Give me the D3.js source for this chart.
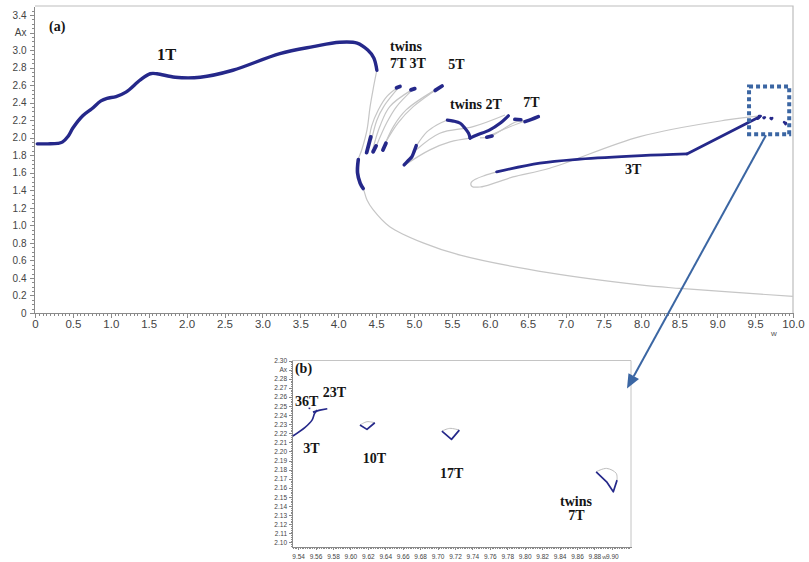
<!DOCTYPE html>
<html>
<head>
<meta charset="utf-8">
<script src="https://cdn.jsdelivr.net/npm/d3@7"></script>
<style>
  html, body { margin: 0; padding: 0; background: #fff; }
  svg { display: block; }
  .axis text { font-family: "Liberation Sans", Arial, sans-serif; fill: #444; }
  .axis path, .axis line { stroke: #8a8a8a; shape-rendering: crispEdges; }
  .lbl { font-family: "Liberation Serif", "Times New Roman", serif; font-weight: bold; fill: #151515; }
</style>
</head>
<body>
<svg id="chart" width="809" height="562"></svg>
<script>
// ---------- panel (a): response amplitude Ax against frequency w ----------
// stable 1T branch (blue)
const branch1T = [[0.03,1.93],[0.17,1.93],[0.30,1.935],[0.36,1.95],[0.44,2.02],[0.50,2.11],
  [0.63,2.25],[0.75,2.33],[0.87,2.42],[0.95,2.45],[1.07,2.47],[1.20,2.52],[1.39,2.66],
  [1.52,2.73],[1.61,2.73],[1.85,2.69],[2.18,2.69],[2.61,2.77],[3.23,2.96],[3.67,3.04],
  [4.02,3.09],[4.25,3.08],[4.39,3.00],[4.47,2.91],[4.51,2.77]];
const branch1TLow = [[4.265,1.75],[4.255,1.60],[4.29,1.48],[4.33,1.42]];
// unstable 1T backbone (gray)
const backbone = [[4.51,2.77],[4.46,2.55],[4.42,2.35],[4.38,2.09],[4.31,1.86],[4.265,1.75],
  [4.255,1.60],[4.29,1.48],[4.33,1.42],[4.38,1.29],[4.46,1.18],[4.68,0.985],[5.12,0.80],
  [5.61,0.66],[6.79,0.457],[7.98,0.32],[8.51,0.28],[10.0,0.19]];
// twins 7T / 3T / 5T fan (gray unstable arcs, blue stable pieces)
const fanGray = [
  [[4.40,1.92],[4.44,2.13],[4.53,2.32],[4.64,2.47],[4.77,2.565]],
  [[4.44,1.975],[4.51,2.20],[4.60,2.355],[4.79,2.565]],
  [[4.46,1.88],[4.55,2.13],[4.68,2.355],[4.97,2.546]],
  [[4.50,1.90],[4.64,2.17],[4.77,2.355],[4.99,2.554]],
  [[4.60,1.89],[4.73,2.13],[4.90,2.32],[5.28,2.546]],
  [[4.62,1.94],[4.79,2.17],[4.99,2.355],[5.34,2.577]]
];
const fanBlue = [
  [[4.43,2.01],[4.375,1.83]],
  [[4.50,1.906],[4.46,1.84]],
  [[4.63,1.937],[4.59,1.86]],
  [[4.77,2.57],[4.815,2.585]],
  [[4.96,2.546],[5.01,2.56]],
  [[5.28,2.54],[5.37,2.59]]
];
// twins 2T region
const twinsLowBlue = [[5.03,1.91],[5.0,1.84],[4.97,1.78],[4.925,1.74],[4.87,1.69]];
const grayTwins2T = [
  [[5.03,1.906],[5.17,2.066],[5.30,2.146],[5.44,2.203]],
  [[4.88,1.689],[5.21,1.861],[5.475,1.952],[5.74,1.995]],
  [[5.03,1.861],[5.34,2.051],[5.78,2.127],[6.20,2.26]],
  [[5.87,1.998],[6.00,2.013],[6.355,2.184],[6.51,2.195]],
  [[5.95,2.005],[6.25,2.12],[6.53,2.211]]
];
const blue2TLeft = [[5.44,2.20],[5.52,2.19],[5.61,2.165],[5.67,2.11],[5.72,2.05],[5.74,1.995]];
const blue2TRight = [[5.74,1.995],[5.83,2.03],[6.00,2.09],[6.135,2.165],[6.245,2.25]];
const blueDashes = [
  [[5.96,2.005],[6.03,2.02]],
  [[6.33,2.21],[6.41,2.205]],
  [[6.464,2.184],[6.55,2.21],[6.64,2.241]]
];
// 3T loop
const loop3TGray = [[6.095,1.61],[5.937,1.570],[5.818,1.530],[5.752,1.484],[5.765,1.444],
  [5.871,1.438],[6.069,1.484],[6.306,1.553],[6.79,1.652],[7.98,2.013],[9.13,2.203],[9.57,2.25]];
const blue3T = [[6.09,1.61],[6.66,1.71],[7.19,1.755],[8.0,1.795],[8.60,1.815]];
const blue3TRise = [[8.60,1.815],[9.56,2.24]];

// ---------- panel (b): close-up near w = 9.5 .. 9.9 ----------
const in3T  = [[9.534,2.217],[9.548,2.2265],[9.556,2.2345],[9.559,2.242],[9.562,2.2455]];
const in23T = [[9.557,2.2433],[9.565,2.2455],[9.5735,2.247]];
const in36T = [[9.552,2.2475],[9.554,2.2472]];
const in10T = [[9.611,2.229],[9.619,2.2243],[9.628,2.2316]];
const in10TGray = [[9.611,2.229],[9.619,2.2327],[9.628,2.2316]];
const in17T = [[9.705,2.2224],[9.716,2.2133],[9.725,2.2235]];
const in17TGray = [[9.705,2.2224],[9.714,2.2254],[9.725,2.2235]];
const in7T = [[9.882,2.1777],[9.894,2.1667],[9.9017,2.1557],[9.906,2.1685]];
const in7TGray = [[9.882,2.1777],[9.894,2.1814],[9.905,2.176],[9.906,2.1685]];

// ---------- tick values ----------
const mainXTicks = [0,0.5,1,1.5,2,2.5,3,3.5,4,4.5,5,5.5,6,6.5,7,7.5,8,8.5,9,9.5,10];
const mainYTicks = [0,0.2,0.4,0.6,0.8,1.0,1.2,1.4,1.6,1.8,2.0,2.2,2.4,2.6,2.8,3.0,3.2,3.4];
const insetXTicks = [9.54,9.56,9.58,9.60,9.62,9.64,9.66,9.68,9.70,9.72,9.74,9.76,9.78,9.80,9.82,9.84,9.86,9.88,9.90];
const insetYTicks = [2.10,2.11,2.12,2.13,2.14,2.15,2.16,2.17,2.18,2.19,2.20,2.21,2.22,2.23,2.24,2.25,2.26,2.27,2.28,2.29,2.30];

// ---------- annotations (data coordinates) ----------
const mainLabels = [
  {t:"(a)", w:0.185, a:3.219, s:14},
  {t:"1T", w:1.61, a:2.888, s:16.5},
  {t:"twins", w:4.683, a:2.985, s:14},
  {t:"7T 3T", w:4.683, a:2.793, s:14},
  {t:"5T", w:5.453, a:2.785, s:14},
  {t:"twins 2T", w:5.475, a:2.332, s:14},
  {t:"7T", w:6.442, a:2.348, s:14},
  {t:"3T", w:7.784, a:1.587, s:14}
];
const insetLabels = [
  {t:"(b)", w:9.5364, a:2.2863},
  {t:"36T", w:9.5364, a:2.250},
  {t:"23T", w:9.5682, a:2.2602},
  {t:"3T", w:9.546, a:2.1987},
  {t:"10T", w:9.6141, a:2.1877},
  {t:"17T", w:9.7028, a:2.1705},
  {t:"twins", w:9.8405, a:2.140},
  {t:"7T", w:9.850, a:2.1247}
];

const BLUE = "#25288a", GRAY = "#c6c6c6", ANNO = "#3b66a3";
const svg = d3.select("#chart");

// ---------- scales ----------
const x = d3.scaleLinear().domain([0, 10]).range([35, 793]);
const y = d3.scaleLinear().domain([0, 3.503]).range([313, 6]);
const xi = d3.scaleLinear().domain([9.533, 9.922]).range([292, 631]);
const yi = d3.scaleLinear().domain([2.095, 2.30]).range([547, 360.5]);

const smooth = d3.curveCatmullRom.alpha(0.5);
const mkLine = (sx, sy, curve) => d3.line().x(d => sx(d[0])).y(d => sy(d[1])).curve(curve || smooth);
const lineMain = mkLine(x, y);
const lineMainStraight = mkLine(x, y, d3.curveLinear);
const lineInset = mkLine(xi, yi);
const lineInsetStraight = mkLine(xi, yi, d3.curveLinear);

// ---------- panel (a) axes & frame ----------
const fmt1 = d => d === 0 ? "0" : d3.format(".1f")(d);
const minor = (lo, hi, step) => d3.range(Math.round((hi - lo) / step) + 1).map(i => +(lo + i * step).toFixed(4));

const gA = svg.append("g");
gA.append("path")
  .attr("d", `M${x(0)},${y.range()[1]}H${x(10)}V${y(0)}`)
  .attr("fill", "none").attr("stroke", "#bdbdbd").attr("stroke-width", 1.2);

gA.append("g").attr("class", "axis").attr("transform", `translate(${x(0) - 1},0)`)
  .call(d3.axisLeft(y).tickValues(minor(0, 3.45, 0.05)).tickSize(2.5).tickSizeOuter(0).tickFormat(""));
gA.append("g").attr("class", "axis").attr("transform", `translate(${x(0) - 1},0)`)
  .call(d3.axisLeft(y).tickValues(mainYTicks).tickSize(4.5).tickSizeOuter(0).tickPadding(3)
    .tickFormat(d => Math.abs(d - 3.2) < 1e-9 ? "Ax" : fmt1(d)))
  .call(g => g.selectAll("text").style("font-size", "10px"));

gA.append("g").attr("class", "axis").attr("transform", `translate(0,${y(0)})`)
  .call(d3.axisBottom(x).tickValues(minor(0, 10, 0.05)).tickSize(2.5).tickSizeOuter(0).tickFormat(""));
gA.append("g").attr("class", "axis").attr("transform", `translate(0,${y(0)})`)
  .call(d3.axisBottom(x).tickValues(mainXTicks).tickSize(4.5).tickSizeOuter(0).tickPadding(2).tickFormat(fmt1))
  .call(g => g.selectAll("text").style("font-size", "11.5px"));
gA.append("text").attr("x", 774).attr("y", 336).attr("text-anchor", "middle")
  .style("font-family", "Liberation Sans, Arial, sans-serif").style("font-size", "8px").attr("fill", "#555").text("w");

// ---------- panel (a) curves ----------
const gray = (d, lf) => gA.append("path").attr("d", (lf || lineMain)(d)).attr("fill", "none")
  .attr("stroke", GRAY).attr("stroke-width", 1.2);
const blue = (d, w, lf) => gA.append("path").attr("d", (lf || lineMain)(d)).attr("fill", "none")
  .attr("stroke", BLUE).attr("stroke-width", w).attr("stroke-linecap", "round").attr("stroke-linejoin", "round");

gray(backbone);
fanGray.forEach(d => gray(d));
grayTwins2T.forEach(d => gray(d));
gray(loop3TGray);

blue(branch1T, 3.4);
blue(branch1TLow, 3.6);
fanBlue.forEach(d => blue(d, 3.8, lineMainStraight));
blue(twinsLowBlue, 3.4);
blue(blue2TLeft, 3.2);
blue(blue2TRight, 3.2);
blueDashes.forEach(d => blue(d, 3.6));
blue(blue3T, 2.8);
blue(blue3TRise, 2.8, lineMainStraight);
[in3T, in23T, in36T, in10T, in17T, in7T].forEach(d => blue(d, 2.6, lineMainStraight));

mainLabels.forEach(l => gA.append("text").attr("class", "lbl")
  .attr("x", x(l.w)).attr("y", y(l.a)).style("font-size", l.s + "px").text(l.t));

// zoom box around the small-amplitude orbits
gA.append("rect")
  .attr("x", x(9.42)).attr("y", y(2.585))
  .attr("width", x(9.95) - x(9.42)).attr("height", y(2.04) - y(2.585))
  .attr("fill", "none").attr("stroke", ANNO).attr("stroke-width", 4).attr("stroke-dasharray", "4,3");

// ---------- panel (b) ----------
const gB = svg.append("g");
const [bx0, bx1] = xi.range(), [by0, by1] = [yi(2.30), yi.range()[0]];
gB.append("path").attr("d", `M${bx0},${by0}H${bx1}V${by1}`)
  .attr("fill", "none").attr("stroke", "#c4c4c4").attr("stroke-width", 1);

const fmt2 = d3.format(".2f");
gB.append("g").attr("class", "axis").attr("transform", `translate(${bx0},0)`)
  .call(d3.axisLeft(yi).tickValues(minor(2.096, 2.30, 0.002)).tickSize(1.5).tickSizeOuter(0).tickFormat(""));
gB.append("g").attr("class", "axis").attr("transform", `translate(${bx0},0)`)
  .call(d3.axisLeft(yi).tickValues(insetYTicks).tickSize(3).tickSizeOuter(0).tickPadding(2)
    .tickFormat(d => Math.abs(d - 2.29) < 1e-9 ? "Ax" : fmt2(d)))
  .call(g => g.selectAll("text").style("font-size", "6.5px"));
gB.append("g").attr("class", "axis").attr("transform", `translate(0,${by1})`)
  .call(d3.axisBottom(xi).tickValues(minor(9.534, 9.920, 0.002)).tickSize(1.5).tickSizeOuter(0).tickFormat(""));
gB.append("g").attr("class", "axis").attr("transform", `translate(0,${by1})`)
  .call(d3.axisBottom(xi).tickValues(insetXTicks).tickSize(3).tickSizeOuter(0).tickPadding(4).tickFormat(fmt2))
  .call(g => g.selectAll("text").style("font-size", "6.5px"));
gB.append("text").attr("x", xi(9.8915)).attr("y", 559).attr("text-anchor", "middle")
  .style("font-family", "Liberation Sans, Arial, sans-serif").style("font-size", "6px").attr("fill", "#555").text("w");

[in10TGray, in17TGray, in7TGray].forEach(d => gB.append("path").attr("d", lineInset(d))
  .attr("fill", "none").attr("stroke", "#bdbdbd").attr("stroke-width", 1));
gB.append("path").attr("d", lineInset(in3T)).attr("fill", "none").attr("stroke", BLUE).attr("stroke-width", 1.6);
[in23T, in36T, in10T, in17T, in7T].forEach(d => gB.append("path").attr("d", lineInsetStraight(d))
  .attr("fill", "none").attr("stroke", BLUE).attr("stroke-width", 1.7).attr("stroke-linejoin", "round"));

insetLabels.forEach(l => gB.append("text").attr("class", "lbl")
  .attr("x", xi(l.w)).attr("y", yi(l.a)).style("font-size", "14px").text(l.t));

// ---------- arrow from zoom box to panel (b) ----------
const start = [x(9.644), y(2.04) + 1];
const tip = [bx1 - 4, by0 + 28];
const ang = Math.atan2(tip[1] - start[1], tip[0] - start[0]);
const headLen = 14, headHalf = 6;
const base = [tip[0] - headLen * Math.cos(ang), tip[1] - headLen * Math.sin(ang)];
svg.append("line").attr("x1", start[0]).attr("y1", start[1]).attr("x2", base[0]).attr("y2", base[1])
  .attr("stroke", ANNO).attr("stroke-width", 2);
svg.append("path")
  .attr("d", `M${tip[0]},${tip[1]}L${base[0] + headHalf * Math.sin(ang)},${base[1] - headHalf * Math.cos(ang)}L${base[0] - headHalf * Math.sin(ang)},${base[1] + headHalf * Math.cos(ang)}Z`)
  .attr("fill", ANNO);
</script>
</body>
</html>
